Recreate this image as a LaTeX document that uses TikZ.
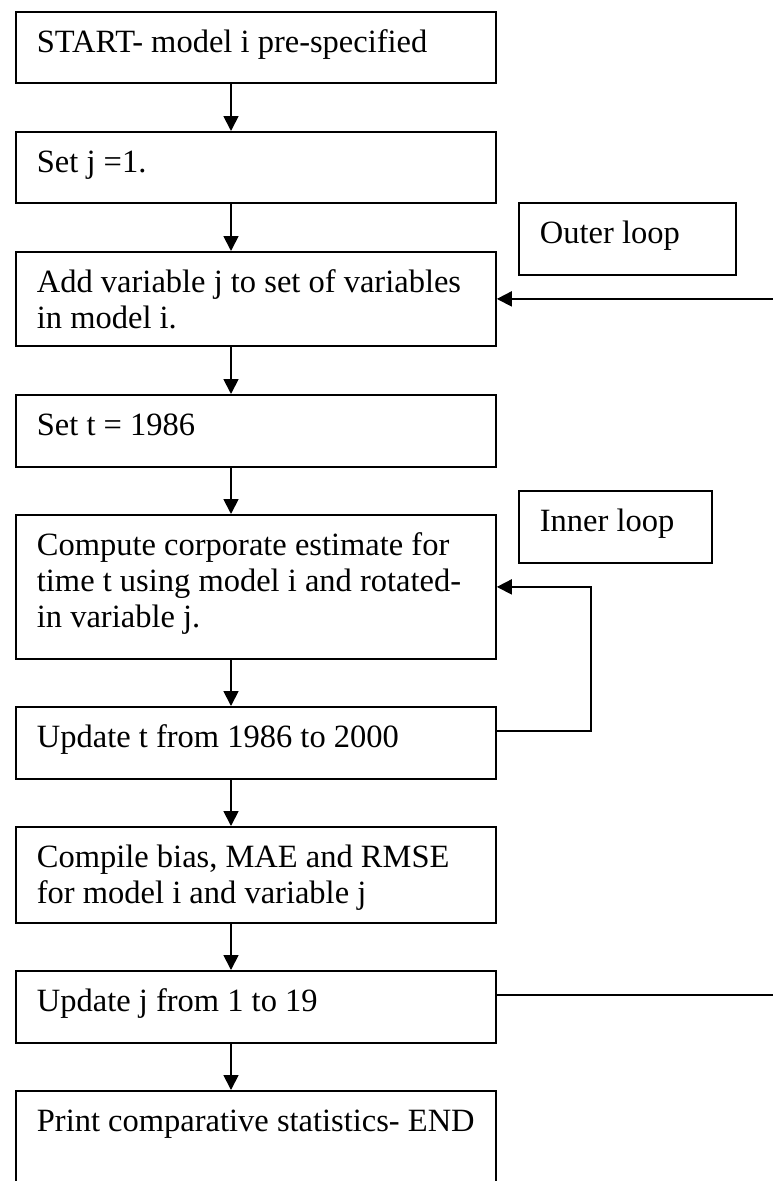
\documentclass[tikz,border=0pt]{standalone}
\usepackage{fontspec}
\setmainfont{Liberation Serif}
\usepackage{tikz}
\usetikzlibrary{arrows.meta}

\newcommand{\flowtext}[3]{\parbox[t][#1pt][t]{#2pt}{\raggedright\strut #3}}

\begin{document}
\begin{tikzpicture}[x=1pt,y=-1pt,every node/.style={draw,line width=1.8pt,anchor=north west,inner xsep=21pt,inner ysep=15pt,font=\fontsize{32.5}{36}\selectfont},flow/.style={line width=1.8pt,-{Triangle[length=15pt,width=15pt]}}]
	\useasboundingbox (0,0) rectangle (773,1181);
	\clip (0,0) rectangle (773,1181);

	\node (a1) at (15,11) {\flowtext{41}{438}{START- model i pre-specified}};
	\node (a2) at (15,131) {\flowtext{41}{438}{Set j =1.}};
	\node (a3) at (15,251) {\flowtext{64}{438}{Add variable j to set of variables\\in model i.}};
	\node (a4) at (15,394) {\flowtext{42}{438}{Set t = 1986}};
	\node (a5) at (15,514) {\flowtext{114}{438}{Compute corporate estimate for\\time t using model i and rotated-\\in variable j.}};
	\node (a6) at (15,706) {\flowtext{42}{438}{Update t from 1986 to 2000}};
	\node (a7) at (15,826) {\flowtext{66}{438}{Compile bias, MAE and RMSE\\for model i and variable j}};
	\node (a8) at (15,970) {\flowtext{42}{438}{Update j from 1 to 19}};
	\node (a9) at (15,1090) {\flowtext{130}{438}{Print comparative statistics- END}};

	\node (outer) at (518,202) {\flowtext{42}{175}{Outer loop}};
	\node (inner) at (518,490) {\flowtext{42}{151}{Inner loop}};

	\coordinate (ax) at (231,0);
	\coordinate (il) at (591,0);
	\coordinate (ol) at (773,0);

	\draw[flow] (a1.south -| ax) -- (a2.north -| ax);
	\draw[flow] (a2.south -| ax) -- (a3.north -| ax);
	\draw[flow] (a3.south -| ax) -- (a4.north -| ax);
	\draw[flow] (a4.south -| ax) -- (a5.north -| ax);
	\draw[flow] (a5.south -| ax) -- (a6.north -| ax);
	\draw[flow] (a6.south -| ax) -- (a7.north -| ax);
	\draw[flow] (a7.south -| ax) -- (a8.north -| ax);
	\draw[flow] (a8.south -| ax) -- (a9.north -| ax);

	% inner loop
	\draw[flow] ([yshift=12pt]a6.east) -| (il |- a5.east) -- (a5.east);
	% outer loop
	\draw[line width=1.8pt] ([yshift=12pt]a8.east) -- ([yshift=12pt]a8.east -| ol);
	\draw[flow] (a3.east -| ol) -- (a3.east);
\end{tikzpicture}
\end{document}
